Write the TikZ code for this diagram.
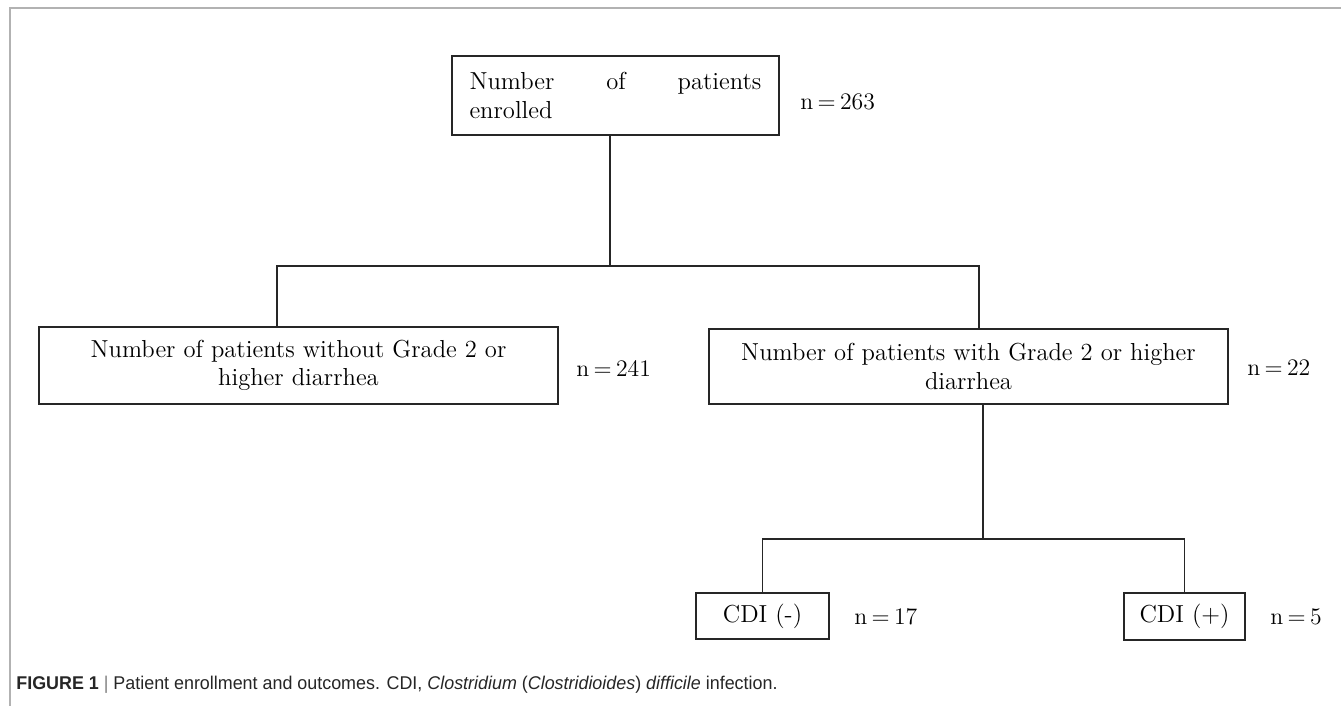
\documentclass[tikz,border=0pt]{standalone}
\usepackage{fontspec}
\newfontfamily\capfont{Liberation Sans}
\begin{document}
\begin{tikzpicture}[x=0.02cm,y=-0.02cm,
  box/.style={draw=black!85,line width=1pt,inner sep=0pt,align=center,font=\fontsize{14}{16}\selectfont},
  count/.style={anchor=west,inner sep=0pt,font=\fontsize{13.5}{16}\selectfont},
  link/.style={draw=black!85,line width=0.8pt}]
  \useasboundingbox (0,0) rectangle (1341,706);
  \draw[gray!60,line width=0.7pt] (1341,8) -- (10,8) -- (10,706);

  \node[box,minimum width=6.54cm,minimum height=1.58cm,text width=5.84cm,align=left] (enrolled) at (615.5,95.5)
    {Number\hfill of\hfill patients\\enrolled};
  \node[count] (nEnrolled) at (800,102) {n\kern2.5pt=\kern2.5pt263};

  \node[box,minimum width=10.38cm,minimum height=1.54cm] (noDiarrhea) at (298.5,365.5)
    {Number of patients without Grade 2 or\\higher diarrhea};
  \node[count] (nNoDiarrhea) at (576,368) {n\kern2.5pt=\kern2.5pt241};
  \node[box,minimum width=10.38cm,minimum height=1.50cm] (diarrhea) at (968.5,366.5)
    {Number of patients with Grade 2 or higher\\diarrhea};
  \node[count] (nDiarrhea) at (1247,368) {n\kern2.5pt=\kern2.5pt22};

  \node[box,minimum width=2.66cm,minimum height=0.92cm] (cdiNeg) at (762.5,616) {CDI (-)};
  \node[count] (nCdiNeg) at (854,617) {n\kern2.5pt=\kern2.5pt17};
  \node[box,minimum width=2.42cm,minimum height=0.94cm] (cdiPos) at (1184.5,616.5) {CDI (+)};
  \node[count] (nCdiPos) at (1270,617) {n\kern2.5pt=\kern2.5pt5};

  \coordinate (split1) at (610,266);
  \coordinate (armL) at (277,266);
  \coordinate (armR) at (979,266);
  \coordinate (split2) at (983,539);
  \draw[link] (split1 |- enrolled.south) -- (split1);
  \draw[link] (noDiarrhea.north -| armL) -- (armL) -- (armR) -- (diarrhea.north -| armR);
  \draw[link] (split2 |- diarrhea.south) -- (split2);
  \draw[link] (cdiNeg.north) |- (split2) -| (cdiPos.north);

  \node[anchor=west,inner sep=0pt,text=black!85,font=\capfont\fontsize{10.5}{12}\selectfont] (caption) at (16,685)
    {\scalebox{0.97}[1]{\textbf{FIGURE 1} \textcolor{gray}{|} Patient enrollment and outcomes. CDI, \textit{Clostridium} (\textit{Clostridioides}) \textit{difficile} infection.}};
\end{tikzpicture}
\end{document}
